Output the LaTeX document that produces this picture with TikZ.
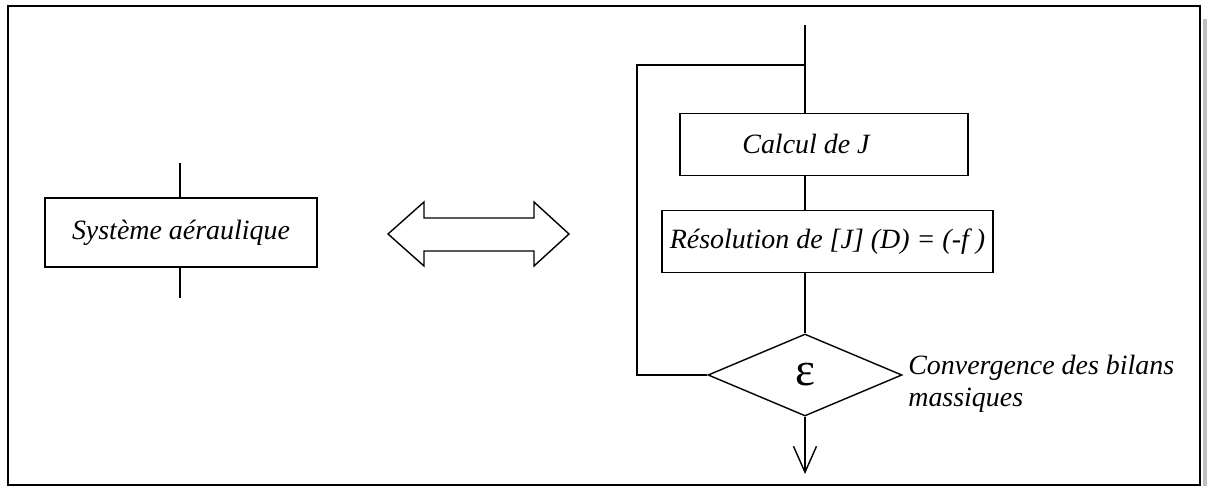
\documentclass[tikz,border=0pt]{standalone}
\usepackage{fontspec}
\setmainfont{Liberation Serif}
\usetikzlibrary{positioning,shapes.geometric,arrows.meta}

\tikzset{
  boite/.style={draw, line width=0.8pt, inner sep=0pt,
    font=\itshape\fontsize{15.9pt}{19pt}\selectfont},
  test/.style={draw, diamond, line width=0.8pt, inner sep=0pt, aspect=2.37,
    minimum width=3.88cm, minimum height=1.64cm,
    font=\fontsize{27pt}{29pt}\selectfont},
  note/.style={align=left, inner sep=0pt,
    font=\itshape\fontsize{15.9pt}{18.2pt}\selectfont},
  trait/.style={line width=0.8pt},
}

\begin{document}
\begin{tikzpicture}[x=0.02cm, y=-0.02cm]
\useasboundingbox (0,0) rectangle (1207,486);

% cadre
\fill[black!25] (1203,19) rectangle (1207,486);
\draw[line width=1.2pt] (8,6) rectangle (1200,485);

% partie gauche
\node[boite, minimum width=5.44cm, minimum height=1.38cm] (systeme) at (181,232.5) {Système aéraulique};
\coordinate (sysin) at (180,163);
\coordinate (sysout) at (180,298);

\draw[trait] (sysin) -- (sysin |- systeme.north);
\draw[trait] (sysout |- systeme.south) -- (sysout);

% double fleche
\draw[trait] (388,234) -- (424,202) -- (424,218) -- (534,218) -- (534,202) -- (569,234)
  -- (534,266) -- (534,251) -- (424,251) -- (424,266) -- cycle;

% partie droite
\node[test] (eps) at (805,375) {\raisebox{0.5pt}{ε}};
\node[boite, minimum width=6.62cm, minimum height=1.24cm, above=1.2cm of eps, xshift=0.45cm] (resolution) {Résolution de [J] (D) = (-f )};
\node[boite, minimum width=5.76cm, minimum height=1.24cm, above=0.68cm of resolution, xshift=-0.07cm] (calcul) {\hspace*{-0.72cm}Calcul de J};
\node[note, anchor=west] (bilans) at (908,384) {Convergence des bilans\\massiques};

\coordinate (entree) at (805,25);
\coordinate (boucle) at (637,65);
\coordinate (sortie) at (805,474);

\draw[trait] (entree) -- (entree |- calcul.north);
\draw[trait] (calcul.south -| entree) -- (resolution.north -| entree);
\draw[trait] (resolution.south -| entree) -- (eps.north);
\draw[trait] (eps.west) -| (boucle) -- (boucle -| entree);
\draw[trait, -{Straight Barb[length=0.52cm, width=0.46cm]}] (eps.south) -- (sortie);

\end{tikzpicture}
\end{document}
